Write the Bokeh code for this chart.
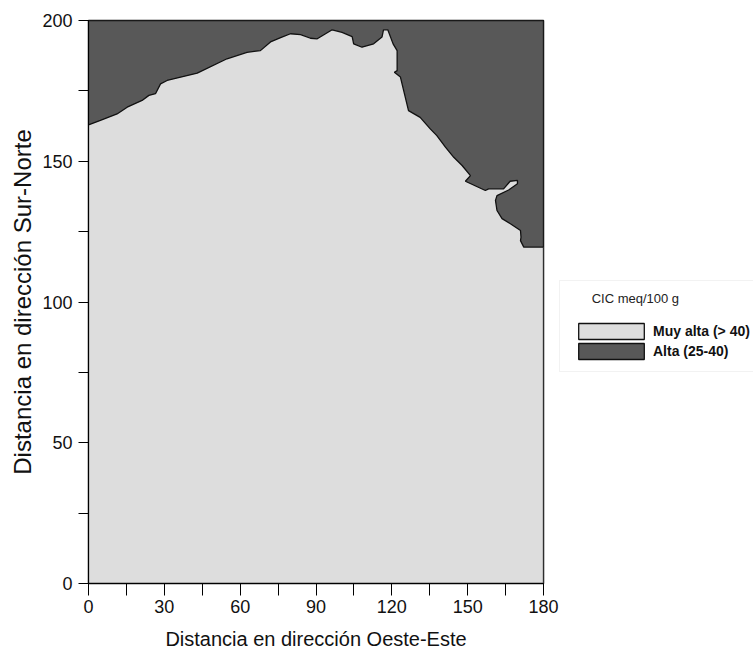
from bokeh.plotting import figure
from bokeh.models import Range1d, FixedTicker, Legend, LegendItem
from bokeh.embed import file_html
from bokeh.resources import INLINE

# ---- data ----
x_extent = [0, 180]
y_extent = [0, 200]

x_ticks = [0, 30, 60, 90, 120, 150, 180]
x_minor = [15, 45, 75, 105, 135, 165]
y_ticks = [0, 50, 100, 150, 200]
y_minor = [25, 75, 125, 175]

# boundary between "Muy alta" (below) and "Alta" (above)
bound_x = [0, 4.7, 11.3, 15.3, 21.2, 23.9, 26.5, 28.5, 31.1, 43.0, 54.8, 62.7, 68.0,
           72.0, 76.0, 79.9, 83.9, 87.8, 90.5, 96.4, 100.3, 104.3, 104.9, 108.2, 112.8,
           116.1, 116.7, 118.4, 120.5, 122.1, 122.1, 121.0, 123.4, 126.6, 131.2, 135.2,
           137.8, 141.2, 144.5, 147.8, 151.1, 149.1, 157.0, 158.3, 164.2, 164.8, 166.8,
           169.7, 169.7, 166.2, 161.6, 161.0, 161.6, 163.6, 166.9, 170.9, 171.1, 170.9,
           172.2, 180]
bound_y = [162.9, 164.5, 166.8, 169.2, 171.6, 173.4, 174.0, 177.5, 178.7, 181.3, 186.4,
           188.7, 189.3, 192.4, 193.9, 195.3, 195.0, 193.7, 193.5, 196.7, 195.8, 194.3,
           191.7, 190.5, 191.7, 194.1, 196.7, 196.7, 191.7, 189.3, 182.2, 181.6, 179.9,
           168.0, 165.6, 161.5, 159.1, 155.0, 151.4, 148.5, 144.9, 142.9, 139.6, 140.2,
           140.2, 140.8, 142.9, 143.2, 142.0, 139.8, 137.8, 136.1, 132.5, 129.6, 127.8,
           125.4, 123.0, 121.8, 119.5, 119.5]

labels = ["Muy alta (> 40)", "Alta (25-40)"]
colors = ["#dddddd", "#585858"]
legend_title = "CIC meq/100 g"

FONT = "Liberation Sans"

p = figure(frame_width=455, frame_height=563, output_backend="svg", toolbar_location=None,
           x_range=Range1d(*x_extent), y_range=Range1d(*y_extent))
p.min_border_left = 88
p.min_border_right = 200
p.min_border_top = 20
p.min_border_bottom = 72
p.grid.visible = False
p.outline_line_color = "#111111"
p.outline_line_width = 1.5
p.background_fill_color = "white"
p.border_fill_color = "white"

dark = p.quad(left=[x_extent[0]], right=[x_extent[1]], bottom=[y_extent[0]], top=[y_extent[1]],
              fill_color=colors[1], line_color="#111111", line_width=1.3)
light_x = bound_x + [x_extent[1], x_extent[0]]
light_y = bound_y + [y_extent[0], y_extent[0]]
light = p.patch(light_x, light_y, fill_color=colors[0], line_color="#111111", line_width=1.3)

# axes
p.xaxis.ticker = FixedTicker(ticks=x_ticks, minor_ticks=x_minor)
p.yaxis.ticker = FixedTicker(ticks=y_ticks, minor_ticks=y_minor)
for ax in (p.xaxis[0], p.yaxis[0]):
    ax.major_tick_in = 0
    ax.minor_tick_in = 0
    ax.axis_line_color = "black"
    ax.major_tick_line_color = "black"
    ax.minor_tick_line_color = "black"
    ax.major_label_text_font = FONT
    ax.major_label_text_font_size = "18px"
    ax.major_label_text_color = "#111111"
    ax.axis_label_text_font = FONT
    ax.axis_label_text_font_style = "normal"
    ax.axis_label_text_color = "#111111"

p.xaxis.major_tick_out = 12
p.xaxis.minor_tick_out = 12
p.yaxis.major_tick_out = 10
p.yaxis.minor_tick_out = 10
p.xaxis.major_label_standoff = 4
p.yaxis.major_label_standoff = 6
p.xaxis.axis_label = "Distancia en dirección Oeste-Este"
p.yaxis.axis_label = "Distancia en dirección Sur-Norte"
p.xaxis.axis_label_text_font_size = "20px"
p.yaxis.axis_label_text_font_size = "24px"
p.xaxis.axis_label_standoff = 12
p.yaxis.axis_label_standoff = 3

legend = Legend(items=[LegendItem(label=labels[0], renderers=[light]),
                       LegendItem(label=labels[1], renderers=[dark])],
                location=(16, 211))
legend.title = "\u00a0" * 6 + legend_title
legend.title_text_font = FONT
legend.title_text_font_size = "13px"
legend.title_text_font_style = "normal"
legend.title_text_color = "#222222"
legend.title_standoff = 15
legend.label_text_font = FONT
legend.label_text_font_size = "14px"
legend.label_text_font_style = "bold"
legend.label_text_color = "#111111"
legend.label_standoff = 1
legend.glyph_width = 82
legend.glyph_height = 20
legend.label_height = 20
legend.spacing = 0
legend.padding = 10
legend.margin = 0
legend.border_line_color = "#e6e6e6"
legend.background_fill_color = "white"
legend.background_fill_alpha = 1.0
p.add_layout(legend, "right")

open("out.html", "w").write(file_html(p, INLINE))
